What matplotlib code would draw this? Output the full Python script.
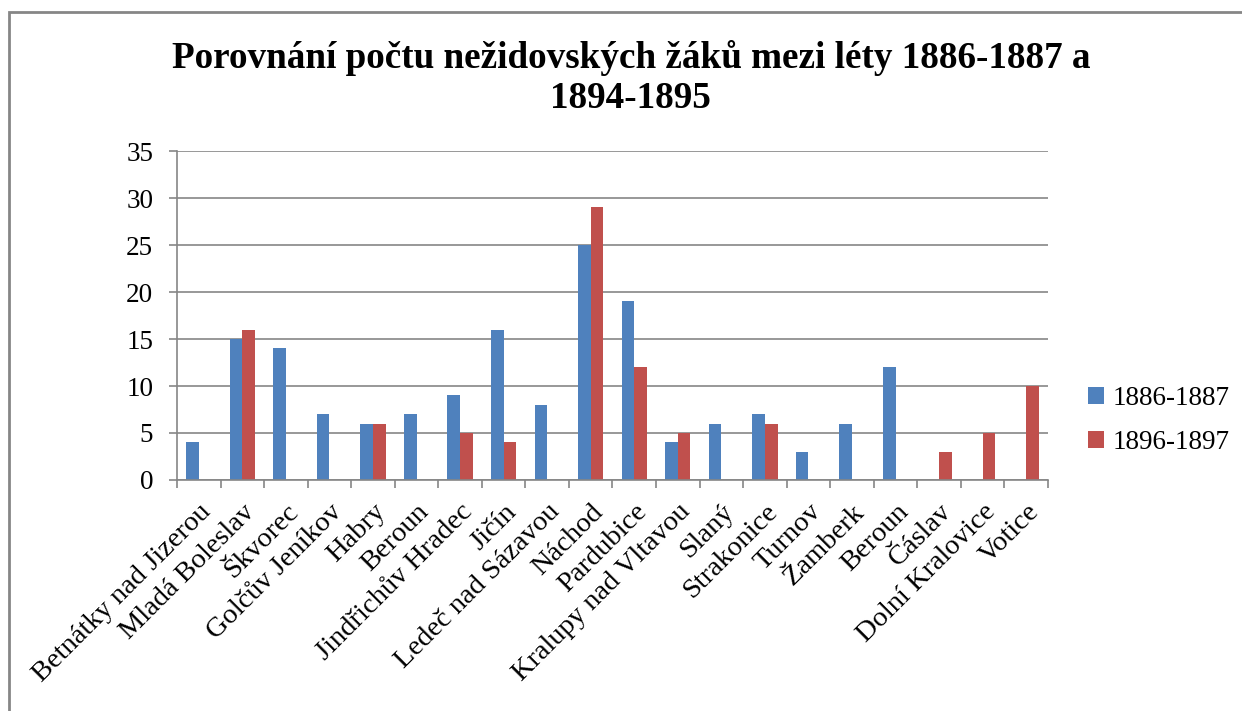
import matplotlib.pyplot as plt
import numpy as np
from matplotlib.patches import Rectangle

plt.rcParams['font.family'] = ['Liberation Serif', 'DejaVu Serif']

categories = ["Betnátky nad Jizerou", "Mladá Boleslav", "Škvorec", "Golčův Jeníkov",
              "Habry", "Beroun", "Jindřichův Hradec", "Jičín", "Ledeč nad Sázavou",
              "Náchod", "Pardubice", "Kralupy nad Vltavou", "Slaný", "Strakonice",
              "Turnov", "Žamberk", "Beroun", "Čáslav", "Dolní Kralovice", "Votice"]
s1886 = [4, 15, 14, 7, 6, 7, 9, 16, 8, 25, 19, 4, 6, 7, 3, 6, 12, 0, 0, 0]
s1896 = [0, 16, 0, 0, 6, 0, 5, 4, 0, 29, 12, 5, 0, 6, 0, 0, 0, 3, 5, 10]
series_labels = ["1886-1887", "1896-1897"]

grey = '#868686'
fig = plt.figure(figsize=(12.42, 7.11), dpi=100)
ax = fig.add_axes([0.1425, 0.3249, 0.7013, 0.4627])

x = np.arange(len(categories))
w = 0.29
ax.bar(x - w/2, s1886, width=w, color='#4f81bd', label=series_labels[0])
ax.bar(x + w/2, s1896, width=w, color='#c0504d', label=series_labels[1])

ax.set_xlim(-0.5, len(categories) - 0.5)
ax.set_ylim(0, 35)
ax.set_yticks(range(0, 36, 5))
ax.yaxis.grid(True, color=grey, linewidth=1.2)
ax.set_axisbelow(True)
for s in ['top', 'right']:
    ax.spines[s].set_visible(False)
for s in ['left', 'bottom']:
    ax.spines[s].set_color(grey)
    ax.spines[s].set_linewidth(1.2)

# category labels between boundary ticks
ax.set_xticks(np.arange(-0.5, len(categories), 1.0))
ax.set_xticklabels([])
ax.set_xticks(x, minor=True)
ax.set_xticklabels(categories, minor=True, rotation=45, ha='right',
                   rotation_mode='anchor', fontsize=20.5)
ax.tick_params(axis='x', which='minor', length=0, pad=14)
ax.tick_params(axis='x', which='major', length=6, color=grey, width=1.2)
ax.tick_params(axis='y', length=6, color=grey, width=1.2, labelsize=19.5, pad=11)

ax.legend(loc='center left', bbox_to_anchor=(1.018, 0.18), frameon=False,
          fontsize=19.5, handlelength=0.6, handleheight=0.6, handletextpad=0.3,
          labelspacing=0.7)

fig.suptitle("Porovnání počtu nežidovských žáků mezi léty 1886-1887 a\n1894-1895",
             fontsize=26.7, fontweight='bold', x=0.508, y=0.944, linespacing=1.2)

fig.patches.append(Rectangle((9/1242, -0.05), 1.1, 1.05 - 12/711,
                             transform=fig.transFigure, fill=False,
                             edgecolor=grey, linewidth=2))

fig.savefig("out.png", dpi=100)
